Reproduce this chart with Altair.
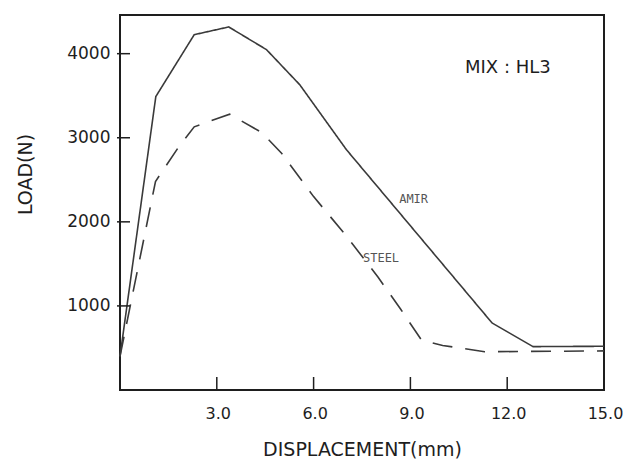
import altair as alt
import pandas as pd

# Load–displacement curves, mix HL3
amir_disp = [0.0, 1.11, 2.30, 3.37, 4.54, 5.57, 7.02, 11.53, 12.80, 15.0]
amir_load = [400, 3490, 4226, 4318, 4048, 3631, 2857, 798, 516, 520]

steel_disp = [0.0, 1.10, 1.80, 2.30, 2.80, 3.40, 4.40, 5.00, 6.00, 7.00, 8.00, 8.70, 9.35, 10.0, 11.3, 15.0]
steel_load = [400, 2480, 2880, 3130, 3200, 3280, 3060, 2820, 2300, 1840, 1340, 960, 590, 530, 455, 465]

x_ticks = [3, 6, 9, 12, 15]
y_ticks = [1000, 2000, 3000, 4000]

W, H = 484, 375
INK = "#1e1e1e"
LINE = "#3a3a3a"

curves = pd.concat([
    pd.DataFrame({"disp": amir_disp, "load": amir_load, "series": "AMIR"}),
    pd.DataFrame({"disp": steel_disp, "load": steel_load, "series": "STEEL"}),
])

x_scale = alt.Scale(domain=[0, 15], nice=False, zero=False)
y_scale = alt.Scale(domain=[0, 4460], nice=False)

x_axis = alt.Axis(
    values=x_ticks, format=".1f", ticks=False, domain=False, grid=False,
    labelPadding=15, labelOffset=1, labelFlush=False, labelOverlap=False,
    labelFontSize=16,
    title="DISPLACEMENT(mm)", titleY=65, titleBaseline="alphabetic",
    titleFontSize=19,
)
y_axis = alt.Axis(
    values=y_ticks, format="d", ticks=False, domain=False, grid=False,
    labelPadding=10, labelFlush=False, labelOverlap=False,
    title="LOAD(N)", titleX=-95, titleY=159, titleAngle=-90,
    titleAlign="center", titleBaseline="middle", titleFontSize=19,
)

X = alt.X("disp:Q", scale=x_scale, axis=x_axis)
Y = alt.Y("load:Q", scale=y_scale, axis=y_axis)

lines = alt.Chart(curves).mark_line(color=LINE, strokeWidth=1.6).encode(
    x=X, y=Y,
    strokeDash=alt.StrokeDash(
        "series:N",
        scale=alt.Scale(domain=["AMIR", "STEEL"], range=[[1, 0], [20, 13]]),
        legend=None,
    ),
)

# tick marks drawn across / inside the frame
y_tick_marks = alt.Chart(pd.DataFrame({"load": y_ticks})).mark_rule(
    color=INK, strokeWidth=1.5
).encode(y=Y, x=alt.value(-3), x2=alt.value(10))

x_tick_marks = alt.Chart(pd.DataFrame({"disp": x_ticks})).mark_rule(
    color=INK, strokeWidth=1.5
).encode(x=X, y=alt.value(H - 13), y2=alt.value(H))

def note(text, x, y, **style):
    return alt.Chart(pd.DataFrame({"label": [text]})).mark_text(**style).encode(
        x=alt.datum(x, scale=x_scale), y=alt.datum(y, scale=y_scale), text="label:N"
    )

amir_note = note("AMIR", 9.1, 2270, font="DejaVu Sans Mono", fontSize=12,
                 color="#555555", align="center", baseline="middle")
steel_note = note("STEEL", 8.09, 1571, font="DejaVu Sans Mono", fontSize=12,
                  color="#555555", align="center", baseline="middle")
mix_note = note("MIX : HL3", 12.02, 3827, font="DejaVu Sans", fontSize=18,
                color=INK, align="center", baseline="middle")

chart = alt.layer(
    lines, y_tick_marks, x_tick_marks, amir_note, steel_note, mix_note
).properties(
    width=W, height=H,
    padding={"left": 120, "top": 15, "right": 20, "bottom": 71},
    autosize=alt.AutoSizeParams(type="none"),
    background="white",
).configure_view(
    stroke=INK, strokeWidth=2
).configure_axis(
    labelFont="DejaVu Sans", labelFontSize=17, labelColor=INK,
    titleFont="DejaVu Sans", titleColor=INK, titleFontWeight="normal",
)

chart.save("out.html", embed_options={"renderer": "svg", "actions": False})
